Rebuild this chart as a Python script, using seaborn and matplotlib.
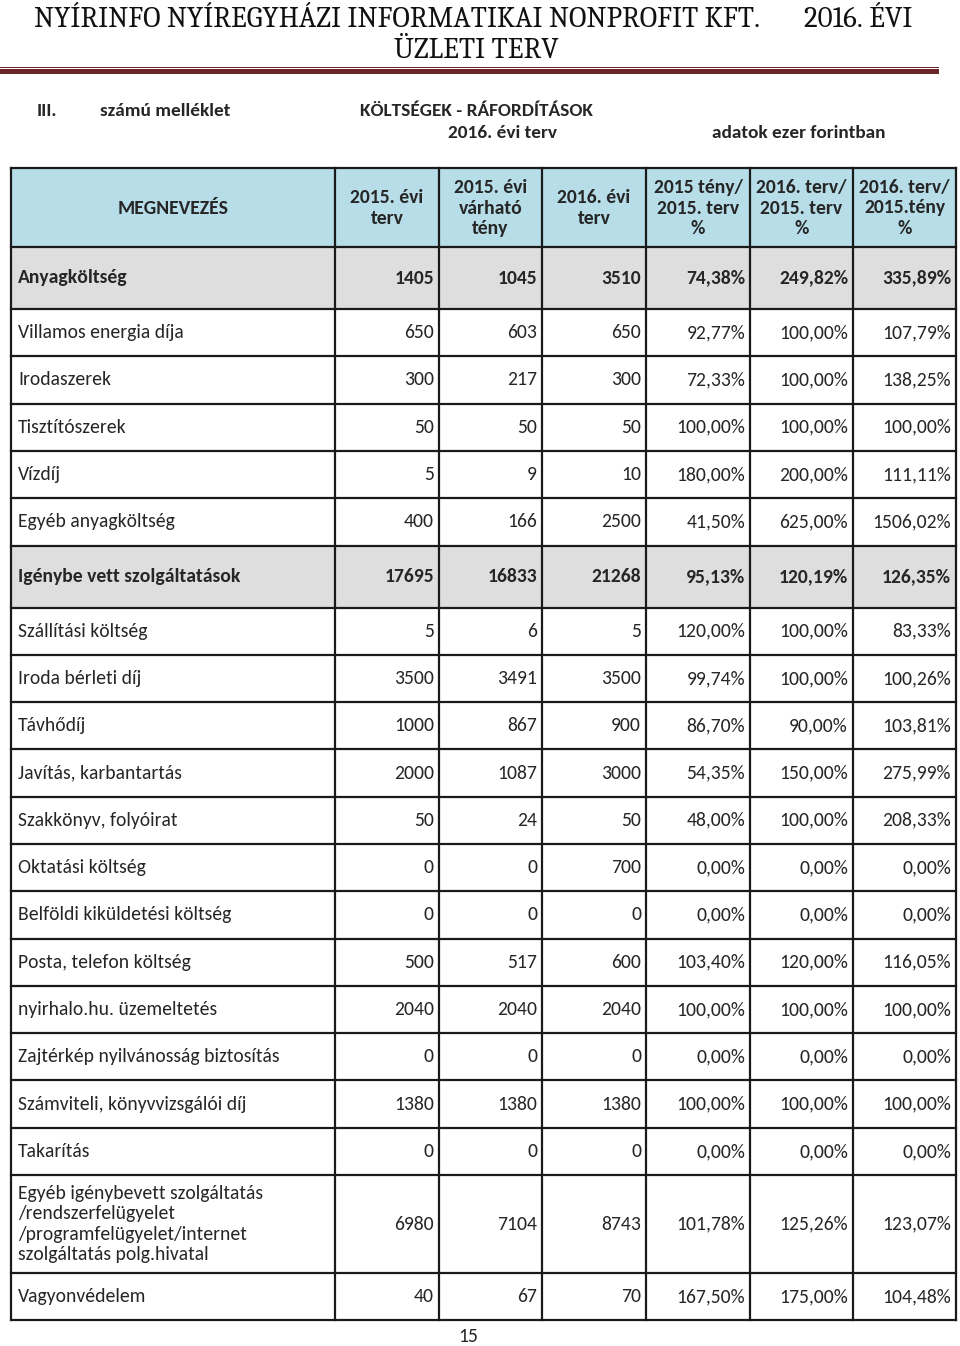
from matplotlib import font_manager
import matplotlib
matplotlib.use("Agg")
import matplotlib.pyplot as plt
from matplotlib.patches import Rectangle
import seaborn as sns

# adatok (ezer Ft)
megnevezes = [
    "Anyagköltség", "Villamos energia díja", "Irodaszerek", "Tisztítószerek",
    "Vízdíj", "Egyéb anyagköltség", "Igénybe vett szolgáltatások",
    "Szállítási költség", "Iroda bérleti díj", "Távhődíj",
    "Javítás, karbantartás", "Szakkönyv, folyóirat", "Oktatási költség",
    "Belföldi kiküldetési költség", "Posta, telefon költség",
    "nyirhalo.hu. üzemeltetés", "Zajtérkép nyilvánosság biztosítás",
    "Számviteli, könyvvizsgálói díj", "Takarítás",
    "Egyéb igénybevett szolgáltatás\n/rendszerfelügyelet\n/programfelügyelet/internet\nszolgáltatás polg.hivatal",
    "Vagyonvédelem",
]
terv_2015 = [1405, 650, 300, 50, 5, 400, 17695, 5, 3500, 1000, 2000, 50, 0, 0, 500, 2040, 0, 1380, 0, 6980, 40]
teny_2015 = [1045, 603, 217, 50, 9, 166, 16833, 6, 3491, 867, 1087, 24, 0, 0, 517, 2040, 0, 1380, 0, 7104, 67]
terv_2016 = [3510, 650, 300, 50, 10, 2500, 21268, 5, 3500, 900, 3000, 50, 700, 0, 600, 2040, 0, 1380, 0, 8743, 70]
pct_teny_terv15 = [74.38, 92.77, 72.33, 100.00, 180.00, 41.50, 95.13, 120.00, 99.74, 86.70, 54.35, 48.00,
                   0.00, 0.00, 103.40, 100.00, 0.00, 100.00, 0.00, 101.78, 167.50]
pct_terv16_terv15 = [249.82, 100.00, 100.00, 100.00, 200.00, 625.00, 120.19, 100.00, 100.00, 90.00, 150.00,
                     100.00, 0.00, 0.00, 120.00, 100.00, 0.00, 100.00, 0.00, 125.26, 175.00]
pct_terv16_teny15 = [335.89, 107.79, 138.25, 100.00, 111.11, 1506.02, 126.35, 83.33, 100.26, 103.81, 275.99,
                     208.33, 0.00, 0.00, 116.05, 100.00, 0.00, 100.00, 0.00, 123.07, 104.48]
fosor = ["Anyagköltség", "Igénybe vett szolgáltatások"]

fejlec = ["MEGNEVEZÉS", "2015. évi\nterv", "2015. évi\nvárható\ntény", "2016. évi\nterv",
          "2015 tény/\n2015. terv\n%", "2016. terv/\n2015. terv\n%", "2016. terv/\n2015.tény\n%"]

sns.set_theme(style="white")
installed = {f.name for f in font_manager.fontManager.ttflist}


def pick(names, last):
    for n in names:
        if n in installed:
            return [n, last]
    return [last]


BODY = pick(["Carlito", "Lato", "Open Sans"], "DejaVu Sans")
TITLE = pick(["Caladea", "PT Serif", "Noto Serif", "Liberation Serif"], "DejaVu Serif")
plt.rcParams["font.family"] = BODY

W, H = 960, 1346
fig = plt.figure(figsize=(W / 100, H / 100), dpi=100)
ax = fig.add_axes([0, 0, 1, 1])
ax.set_xlim(0, W)
ax.set_ylim(H, 0)
ax.axis("off")
renderer = fig.canvas.get_renderer()


def fit(text, family, weight, target):
    t = ax.text(0, 0, text, family=family, weight=weight, fontsize=12)
    w = t.get_window_extent(renderer).width
    t.remove()
    return 12 * target / w


fs = fit("Villamos energia díja", BODY, "normal", 165)
fsb = fit("Igénybe vett szolgáltatások", BODY, "bold", 222)
fsh = fit("KÖLTSÉGEK - RÁFORDÍTÁSOK", BODY, "bold", 233)
fst = fit("NYÍRINFO NYÍREGYHÁZI INFORMATIKAI NONPROFIT KFT.", TITLE, "normal", 722)
fst = min(fst, 22)

maroon = "#6b2428"
# cim
ax.text(34, 27, "NYÍRINFO NYÍREGYHÁZI INFORMATIKAI NONPROFIT KFT.", family=TITLE,
        fontsize=fst, va="baseline", ha="left", color="#111111")
ax.text(912, 27, "2016. ÉVI", family=TITLE, fontsize=fst, va="baseline", ha="right", color="#111111")
ax.text(476, 58, "ÜZLETI TERV", family=TITLE, fontsize=fst, va="baseline", ha="center", color="#111111")
ax.add_patch(Rectangle((0, 66.5), 939, 1.2, color=maroon, lw=0))
ax.add_patch(Rectangle((0, 69), 939, 5, color=maroon, lw=0))

ax.text(37, 111, "III.", fontsize=fsh, weight="bold", va="center")
ax.text(100, 111, "számú melléklet", fontsize=fsh, weight="bold", va="center")
ax.text(360, 111, "KÖLTSÉGEK - RÁFORDÍTÁSOK", fontsize=fsh, weight="bold", va="center")
ax.text(448, 133, "2016. évi terv", fontsize=fsh, weight="bold", va="center")
ax.text(712, 133, "adatok ezer forintban", fontsize=fsh, weight="bold", va="center")

# tablazat geometriaja
cols = [11, 335, 439, 542, 646, 750, 853, 956]
row_h = []
for n in megnevezes:
    if n in fosor:
        row_h.append(62)
    elif "\n" in n:
        row_h.append(98)
    else:
        row_h.append(47.3)
tops = [247]
for h in row_h:
    tops.append(tops[-1] + h)

# fejlec
ax.add_patch(Rectangle((cols[0], 168), cols[-1] - cols[0], 247 - 168, color="#b7dde8", lw=0))
for j, t in enumerate(fejlec):
    xc = (cols[j] + cols[j + 1]) / 2
    ax.text(xc, 208, t, fontsize=fsb, weight="bold", ha="center", va="center", linespacing=1.25)


def fmt_pct(v):
    return f"{v:.2f}".replace(".", ",") + "%"


for i, n in enumerate(megnevezes):
    y0, y1 = tops[i], tops[i + 1]
    yc = (y0 + y1) / 2
    bold = n in fosor
    if bold:
        ax.add_patch(Rectangle((cols[0], y0), cols[-1] - cols[0], y1 - y0, color="#dedede", lw=0))
    w = "bold" if bold else "normal"
    f = fsb if bold else fs
    ax.text(18, yc, n, fontsize=f, weight=w, ha="left", va="center", linespacing=1.25)
    vals = [str(terv_2015[i]), str(teny_2015[i]), str(terv_2016[i]),
            fmt_pct(pct_teny_terv15[i]), fmt_pct(pct_terv16_terv15[i]), fmt_pct(pct_terv16_teny15[i])]
    for j, v in enumerate(vals):
        ax.text(cols[j + 2] - 5, yc, v, fontsize=f, weight=w, ha="right", va="center")

# racsvonalak
for y in [168] + tops:
    ax.plot([cols[0], cols[-1]], [y, y], color="#1a1a1a", lw=1.6, solid_capstyle="projecting")
for x in cols:
    ax.plot([x, x], [168, tops[-1]], color="#1a1a1a", lw=1.6, solid_capstyle="projecting")

ax.text(468, 1337, "15", fontsize=fs, ha="center", va="center")

fig.savefig("out.png", dpi=100)
